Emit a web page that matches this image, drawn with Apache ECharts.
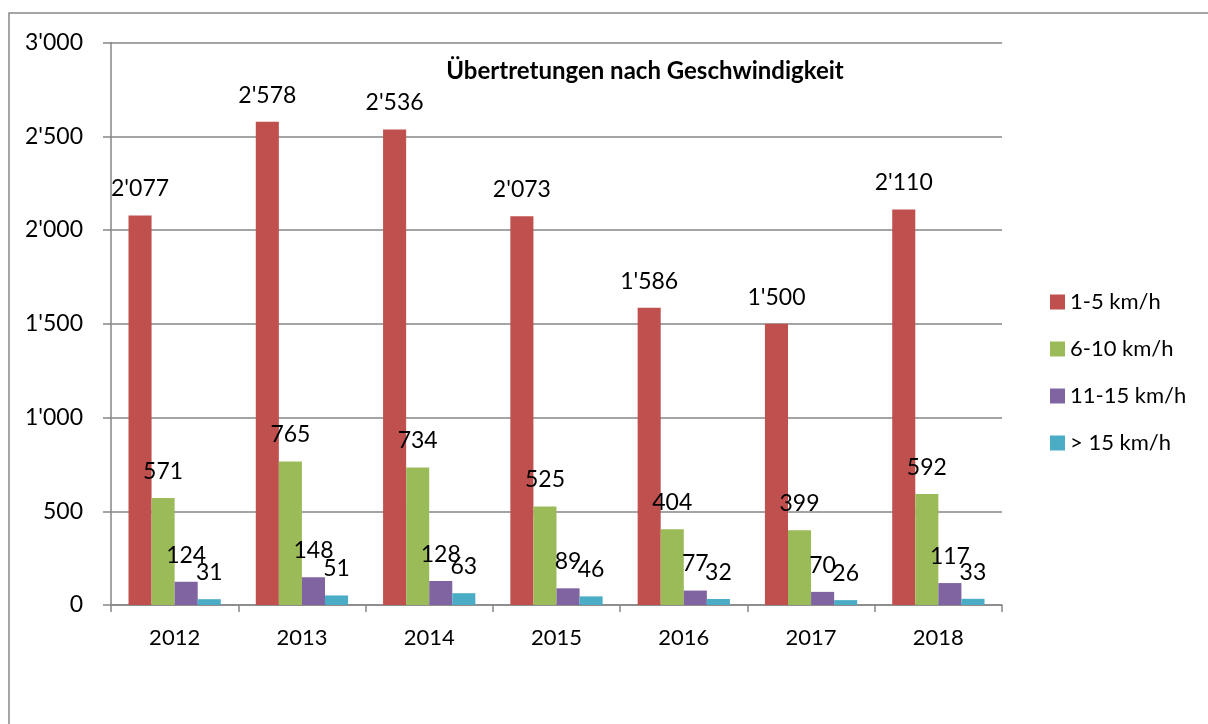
<!DOCTYPE html>
<html>
<head>
<meta charset="utf-8">
<script src="https://cdn.jsdelivr.net/npm/echarts@6/dist/echarts.min.js"></script>
<style>
    html, body { margin: 0; padding: 0; background: #fff; }
    #chart { width: 1208px; height: 724px; }
</style>
</head>
<body>
<div id="chart"></div>
<script>
// Jahre (Kategorien)
var years = ["2012", "2013", "2014", "2015", "2016", "2017", "2018"];
// Serien
var seriesNames = ["1-5 km/h", "6-10 km/h", "11-15 km/h", "> 15 km/h"];
var v1to5 = [2077, 2578, 2536, 2073, 1586, 1500, 2110];
var v6to10 = [571, 765, 734, 525, 404, 399, 592];
var v11to15 = [124, 148, 128, 89, 77, 70, 117];
var vOver15 = [31, 51, 63, 46, 32, 26, 33];

var colors = ["#C0504D", "#9BBB59", "#8064A2", "#4BACC6"];
var font = "Lato";

// 2'077 Format
function fmt(v) {
    return String(v).replace(/\B(?=(\d{3})+(?!\d))/g, "'");
}

var myChart = echarts.init(document.getElementById("chart"));
var allData = [v1to5, v6to10, v11to15, vOver15];

var series = allData.map(function (d, i) {
    return {
        name: seriesNames[i],
        type: "bar",
        data: d,
        barGap: "0%",
        barCategoryGap: "27.5%",
        itemStyle: { color: colors[i] },
        label: {
            show: true,
            position: "top",
            distance: 15,
            color: "#000",
            fontFamily: font,
            fontSize: 23,
            formatter: function (p) { return fmt(p.value); },
        },
    };
});

var option = {
    backgroundColor: "#fff",
    color: colors,
    animation: false,
    title: {
        text: "Übertretungen nach Geschwindigkeit",
        left: 640,
        top: 54,
        textAlign: "center",
        textStyle: { fontFamily: font, fontSize: 24, fontWeight: "bold", color: "#000" },
    },
    graphic: [
        {
            type: "rect",
            shape: { x: 9, y: 13, width: 1400, height: 900 },
            style: { fill: "none", stroke: "#888", lineWidth: 1.5 },
            z: -1,
        },
    ],
    legend: {
        orient: "vertical",
        left: 1045,
        top: 286,
        itemWidth: 15,
        itemHeight: 15,
        itemGap: 25,
        icon: "rect",
        textStyle: { fontFamily: font, fontSize: 22, color: "#000" },
        data: seriesNames,
    },
    grid: {
        left: 111,
        right: 206,
        top: 42.5,
        bottom: 119,
        containLabel: false,
    },
    xAxis: {
        type: "category",
        data: years,
        axisLine: { lineStyle: { color: "#868686", width: 1.5 } },
        axisTick: { show: true, length: 7, lineStyle: { color: "#868686", width: 1.5 } },
        axisLabel: { margin: 22, color: "#000", fontFamily: font, fontSize: 22 },
    },
    yAxis: {
        type: "value",
        min: 0,
        max: 3000,
        interval: 500,
        axisLine: { show: true, lineStyle: { color: "#868686", width: 1.5 } },
        axisTick: { show: true, length: 8, lineStyle: { color: "#868686", width: 1.5 } },
        splitLine: { lineStyle: { color: "#868686", width: 1.5 } },
        axisLabel: {
            margin: 28,
            color: "#000",
            fontFamily: font,
            fontSize: 23,
            formatter: function (v) { return fmt(v); },
        },
    },
    series: series,
};
myChart.setOption(option);
</script>
</body>
</html>
